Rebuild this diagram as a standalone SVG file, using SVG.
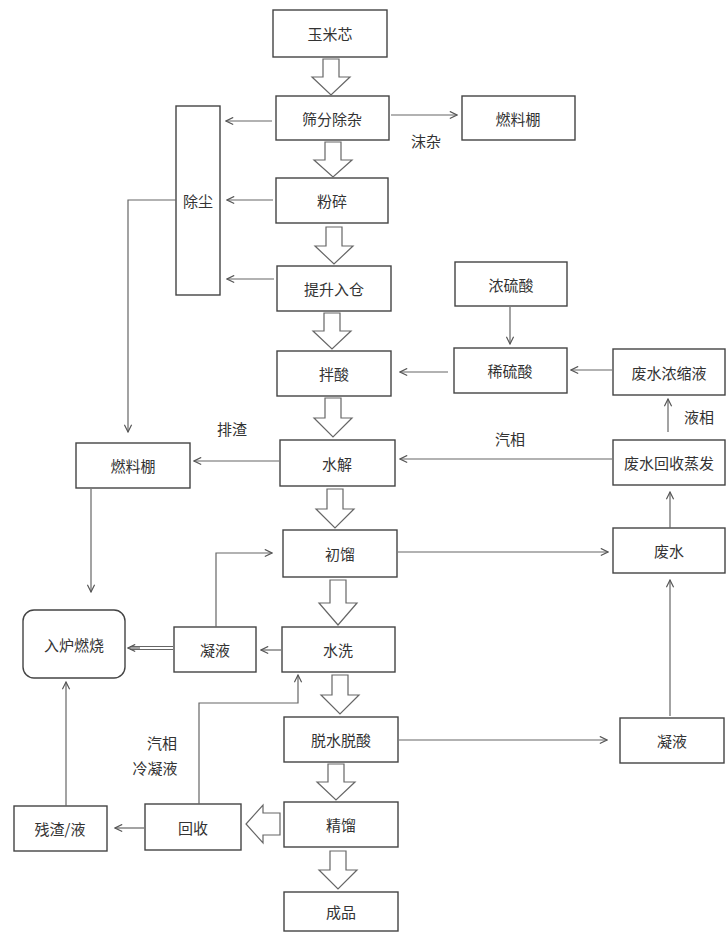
<svg xmlns="http://www.w3.org/2000/svg" width="727" height="933" viewBox="0 0 727 933">
<defs>
<marker id="ah" viewBox="0 0 10 10" refX="9" refY="5" markerWidth="9" markerHeight="9" markerUnits="userSpaceOnUse" orient="auto">
<path d="M1 1 L9 5 L1 9" fill="none" stroke="#555" stroke-width="1.3"/>
</marker>
</defs>
<style>
.box{fill:#fff;stroke:#444;stroke-width:1.4}
.t{font-family:"Noto Sans CJK SC","Noto Sans",sans-serif;font-size:15px;fill:#333;text-anchor:middle;dominant-baseline:central}
.c{fill:none;stroke:#666;stroke-width:1.2;marker-end:url(#ah)}
.cn{fill:none;stroke:#666;stroke-width:1.2}
.ha{fill:#fff;stroke:#666;stroke-width:1.2;stroke-linejoin:miter}
</style>
<rect width="727" height="933" fill="#fff"/>
<g id="n-yumixin"><rect class="box" x="273" y="10" width="114" height="47"/><text class="t" x="330" y="33">玉米芯</text></g>
<g id="n-shaifen"><rect class="box" x="276" y="96" width="113" height="44"/><text class="t" x="332" y="118">筛分除杂</text></g>
<g id="n-ranliao1"><rect class="box" x="462" y="96" width="113" height="44"/><text class="t" x="518" y="118">燃料棚</text></g>
<g id="n-chuchen"><rect class="box" x="176" y="106" width="44" height="189"/><text class="t" x="198" y="200">除尘</text></g>
<g id="n-fensui"><rect class="box" x="276" y="178" width="112" height="45"/><text class="t" x="332" y="200">粉碎</text></g>
<g id="n-tisheng"><rect class="box" x="277" y="266" width="114" height="45"/><text class="t" x="334" y="288">提升入仓</text></g>
<g id="n-nongliusuan"><rect class="box" x="455" y="262" width="112" height="44"/><text class="t" x="511" y="284">浓硫酸</text></g>
<g id="n-bansuan"><rect class="box" x="277" y="351" width="114" height="45"/><text class="t" x="334" y="373">拌酸</text></g>
<g id="n-xiliusuan"><rect class="box" x="454" y="348" width="113" height="45"/><text class="t" x="510" y="370">稀硫酸</text></g>
<g id="n-feishuinongsuo"><rect class="box" x="613" y="349" width="112" height="46"/><text class="t" x="669" y="372">废水浓缩液</text></g>
<g id="n-ranliao2"><rect class="box" x="76" y="443" width="114" height="45"/><text class="t" x="133" y="465">燃料棚</text></g>
<g id="n-shuijie"><rect class="box" x="280" y="440" width="115" height="46"/><text class="t" x="337" y="463">水解</text></g>
<g id="n-feishuihuishou"><rect class="box" x="613" y="440" width="112" height="45"/><text class="t" x="669" y="462">废水回收蒸发</text></g>
<g id="n-chuliu"><rect class="box" x="283" y="530" width="114" height="47"/><text class="t" x="340" y="553">初馏</text></g>
<g id="n-feishui"><rect class="box" x="613" y="528" width="112" height="45"/><text class="t" x="669" y="550">废水</text></g>
<g id="n-rulu"><rect class="box" x="23" y="610" width="102" height="68" rx="11"/><text class="t" x="74" y="644">入炉燃烧</text></g>
<g id="n-ningye1"><rect class="box" x="174" y="627" width="82" height="45"/><text class="t" x="215" y="649">凝液</text></g>
<g id="n-shuixi"><rect class="box" x="282" y="627" width="113" height="45"/><text class="t" x="338" y="649">水洗</text></g>
<g id="n-tuoshui"><rect class="box" x="284" y="717" width="114" height="45"/><text class="t" x="341" y="739">脱水脱酸</text></g>
<g id="n-ningye2"><rect class="box" x="620" y="718" width="104" height="45"/><text class="t" x="672" y="740">凝液</text></g>
<g id="n-canzha"><rect class="box" x="14" y="806" width="93" height="45"/><text class="t" x="60" y="828">残渣/液</text></g>
<g id="n-huishou"><rect class="box" x="145" y="804" width="96" height="46"/><text class="t" x="193" y="827">回收</text></g>
<g id="n-jingliu"><rect class="box" x="284" y="802" width="114" height="45"/><text class="t" x="341" y="824">精馏</text></g>
<g id="n-chengpin"><rect class="box" x="284" y="892" width="114" height="39"/><text class="t" x="341" y="911">成品</text></g>
<g id="connectors">
<path class="ha" d="M323 59 H339 V77 H350 L331 95 L312 77 H323 Z"/>
<path class="ha" d="M325 142 H341 V160 H352 L333 177 L314 160 H325 Z"/>
<path class="ha" d="M326 227 H342 V246 H353 L334 264 L315 246 H326 Z"/>
<path class="ha" d="M324 313 H340 V331 H351 L332 349 L313 331 H324 Z"/>
<path class="ha" d="M325 398 H341 V418 H352 L333 437 L314 418 H325 Z"/>
<path class="ha" d="M327 489 H343 V509 H354 L335 528 L316 509 H327 Z"/>
<path class="ha" d="M330 580 H346 V603 H357 L338 625 L319 603 H330 Z"/>
<path class="ha" d="M332 675 H348 V695 H359 L340 714 L321 695 H332 Z"/>
<path class="ha" d="M328 764 H344 V782 H355 L336 800 L317 782 H328 Z"/>
<path class="ha" d="M330 851 H346 V870 H357 L338 889 L319 870 H330 Z"/>
<path class="ha" d="M280 813 V835 H263 V843 L246 824 L263 805 V813 Z"/>
<path class="c" d="M391 115 H457"/>
<path class="c" d="M272 121 H226"/>
<path class="c" d="M273 200 H227"/>
<path class="c" d="M274 279 H227"/>
<path class="c" d="M176 200 H128 V432"/>
<path class="c" d="M510 307 V344"/>
<path class="c" d="M448 372 H400"/>
<path class="c" d="M612 370 H571"/>
<path class="c" d="M668 432 V399"/>
<path class="c" d="M612 459 H400"/>
<path class="c" d="M279 461 H194"/>
<path class="c" d="M91 489 V592"/>
<path class="c" d="M216 627 V553 H272"/>
<path class="c" d="M398 552 H608"/>
<path class="c" d="M670 528 V492"/>
<path class="c" d="M281 650 H261"/>
<path class="cn" d="M173 646.5 H130 M173 649.5 H130" stroke="#999"/>
<path class="c" d="M140 648 H128" stroke="#999"/>
<path class="c" d="M399 740 H607"/>
<path class="c" d="M670 716 V580"/>
<path class="c" d="M199 804 V703 H298 V675"/>
<path class="c" d="M144 828 H115"/>
<path class="c" d="M66 806 V682"/>
</g>
<g id="labels">
<text class="t" x="426" y="140">沫杂</text>
<text class="t" x="699" y="416">液相</text>
<text class="t" x="510" y="438">汽相</text>
<text class="t" x="232" y="428">排渣</text>
<text class="t" x="162" y="742">汽相</text>
<text class="t" x="155" y="767">冷凝液</text>
</g>
</svg>
